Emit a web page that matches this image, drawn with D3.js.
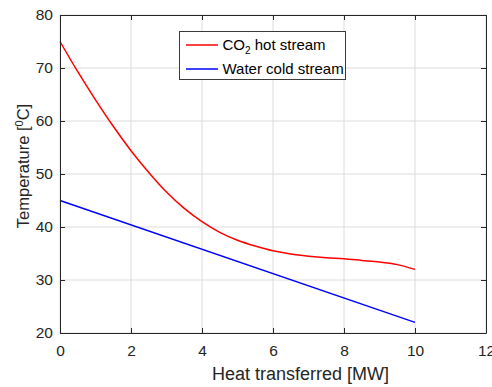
<!DOCTYPE html>
<html>
<head>
<meta charset="utf-8">
<script src="https://cdn.jsdelivr.net/npm/d3@7/dist/d3.min.js"></script>
<style>
  html, body { margin: 0; padding: 0; background: #fff; }
  svg { display: block; font-family: "Liberation Sans", Arial, Helvetica, sans-serif; }
</style>
</head>
<body>
<svg id="chart" width="492" height="387"></svg>
<script>
// Heat transferred [MW] sample positions
const heatMW = [0, 0.5, 1, 1.5, 2, 2.5, 3, 3.5, 4, 4.5, 5, 5.5, 6, 6.5, 7, 7.5, 8, 8.5, 9, 9.5, 10];
// CO2 hot stream temperature [°C]
const co2Hot = [75, 69.3, 64.0, 59.0, 54.4, 50.3, 46.6, 43.5, 41.0, 39.0, 37.5, 36.4, 35.5, 34.9, 34.5, 34.2, 34.0, 33.7, 33.4, 32.9, 32.0];
// Water cold stream: linear profile endpoints
const waterHeat = [0, 10];
const waterCold = [45, 22];

const xTicks = [0, 2, 4, 6, 8, 10, 12];
const yTicks = [20, 30, 40, 50, 60, 70, 80];

const seriesColors = ["#ff0000", "#0000ff"];

const svg = d3.select("#chart");
const margin = { left: 60, top: 15, right: 6, bottom: 54 };
const W = 492, H = 387;
const pw = W - margin.left - margin.right;
const ph = H - margin.top - margin.bottom;

const x = d3.scaleLinear().domain([0, 12]).range([margin.left, margin.left + pw]);
const y = d3.scaleLinear().domain([20, 80]).range([margin.top + ph, margin.top]);

const axisColor = "#262626";

// grid
const grid = svg.append("g");
grid.selectAll("line.gx").data(xTicks).join("line")
  .attr("x1", d => x(d)).attr("x2", d => x(d))
  .attr("y1", margin.top).attr("y2", margin.top + ph)
  .attr("stroke", "#dcdcdc").attr("stroke-width", 1);
grid.selectAll("line.gy").data(yTicks).join("line")
  .attr("x1", margin.left).attr("x2", margin.left + pw)
  .attr("y1", d => y(d)).attr("y2", d => y(d))
  .attr("stroke", "#dcdcdc").attr("stroke-width", 1);

// series
const smooth = d3.line().x(d => x(d[0])).y(d => y(d[1])).curve(d3.curveCatmullRom.alpha(0.5));
svg.append("path")
  .datum(heatMW.map((h, i) => [h, co2Hot[i]]))
  .attr("d", smooth)
  .attr("fill", "none").attr("stroke", seriesColors[0]).attr("stroke-width", 1.5);
svg.append("path")
  .datum(waterHeat.map((h, i) => [h, waterCold[i]]))
  .attr("d", d3.line().x(d => x(d[0])).y(d => y(d[1])))
  .attr("fill", "none").attr("stroke", seriesColors[1]).attr("stroke-width", 1.5);

// axes (ticks inside, boxed)
const tickLen = 5;
const xAxisB = d3.axisBottom(x).tickValues(xTicks).tickSizeInner(-tickLen).tickSizeOuter(0).tickPadding(12);
const xAxisT = d3.axisTop(x).tickValues(xTicks).tickSizeInner(-tickLen).tickSizeOuter(0).tickFormat("");
const yAxisL = d3.axisLeft(y).tickValues(yTicks).tickSizeInner(-tickLen).tickSizeOuter(0).tickPadding(7);
const yAxisR = d3.axisRight(y).tickValues(yTicks).tickSizeInner(-tickLen).tickSizeOuter(0).tickFormat("");

function style(g) {
  g.select(".domain").attr("stroke", axisColor).attr("stroke-width", 1);
  g.selectAll(".tick line").attr("stroke", axisColor);
  g.selectAll(".tick text").attr("fill", axisColor).style("font-size", "15.5px")
    .style("font-family", "'Liberation Sans', Arial, sans-serif");
}
svg.append("g").attr("transform", `translate(0,${margin.top + ph})`).call(xAxisB).call(style);
svg.append("g").attr("transform", `translate(0,${margin.top})`).call(xAxisT).call(style);
svg.append("g").attr("transform", `translate(${margin.left},0)`).call(yAxisL).call(style);
svg.append("g").attr("transform", `translate(${margin.left + pw},0)`).call(yAxisR).call(style);

// axis labels
svg.append("text")
  .attr("x", 300.5).attr("y", 380)
  .attr("text-anchor", "middle").attr("fill", axisColor).style("font-size", "18px")
  .text("Heat transferred [MW]");

const yl = svg.append("text")
  .attr("transform", `translate(29,166) rotate(-90)`)
  .attr("text-anchor", "middle").attr("fill", axisColor).style("font-size", "16.5px");
yl.append("tspan").text("Temperature [");
yl.append("tspan").attr("dy", -6).style("font-size", "11px").text("0");
yl.append("tspan").attr("dy", 6).text("C]");

// legend
const lg = svg.append("g");
lg.append("rect").attr("x", 179.5).attr("y", 31.5).attr("width", 166).attr("height", 48)
  .attr("fill", "#fff").attr("stroke", "#3a3a3a").attr("stroke-width", 1);
const rows = [45, 69];
rows.forEach((ry, i) => {
  lg.append("line").attr("x1", 186).attr("x2", 218).attr("y1", ry).attr("y2", ry)
    .attr("stroke", seriesColors[i]).attr("stroke-width", 1.5);
});
const t1 = lg.append("text").attr("x", 222.5).attr("y", rows[0] + 5).attr("fill", "#000").style("font-size", "15px");
t1.append("tspan").text("CO");
t1.append("tspan").attr("dy", 4).style("font-size", "10px").text("2");
t1.append("tspan").attr("dy", -4).text(" hot stream");
lg.append("text").attr("x", 222.5).attr("y", rows[1] + 5).attr("fill", "#000").style("font-size", "15px")
  .text("Water cold stream");
</script>
</body>
</html>
